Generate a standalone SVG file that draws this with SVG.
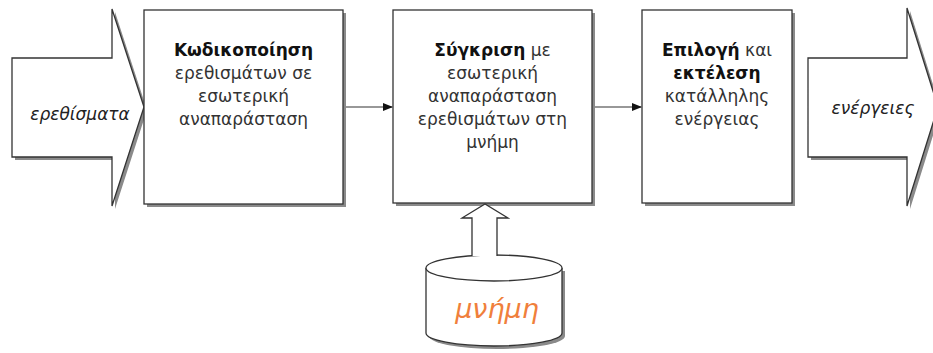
<svg xmlns="http://www.w3.org/2000/svg" width="933" height="353" viewBox="0 0 933 353">
<style>
.sh{fill:#8a8a8a;stroke:none}
.shp{fill:#fff;stroke:#333;stroke-width:1.3}
.t{font-family:"DejaVu Sans",Verdana,sans-serif;font-size:17px;fill:#333;text-anchor:middle}
.b{font-weight:bold;fill:#111}
.it{font-family:"DejaVu Sans",Verdana,sans-serif;font-style:italic;font-size:17px;fill:#222;text-anchor:middle}
.con{stroke:#333;stroke-width:1.2;fill:none}
</style>
<defs>
<marker id="ah" markerWidth="10" markerHeight="8" refX="9" refY="4" orient="auto" markerUnits="userSpaceOnUse">
<path d="M0,0 L10,4 L0,8 Z" fill="#111"/>
</marker>
</defs>
<rect width="933" height="353" fill="#fff"/>

<g id="input-arrow">
<path class="sh" d="M15,61 H115 V12 L147,110 L115,209 V160 H15 Z"/>
<path class="shp" d="M12,58 H112 V9 L144,107 L112,206 V157 H12 Z"/>
<text class="it" x="80" y="120">ερεθίσματα</text>
</g>

<g id="encode">
<rect class="sh" x="147" y="13" width="199" height="194"/>
<rect class="shp" x="144" y="10" width="199" height="194"/>
<text class="t" x="243.5" y="56"><tspan class="b">Κωδικοποίηση</tspan></text>
<text class="t" x="243.5" y="79">ερεθισμάτων σε</text>
<text class="t" x="243.5" y="102">εσωτερική</text>
<text class="t" x="243.5" y="125">αναπαράσταση</text>
</g>

<g id="compare">
<rect class="sh" x="396" y="13" width="199" height="193"/>
<rect class="shp" x="393" y="10" width="199" height="193"/>
<text class="t" x="492.5" y="56"><tspan class="b">Σύγκριση</tspan> με</text>
<text class="t" x="492.5" y="79">εσωτερική</text>
<text class="t" x="492.5" y="102">αναπαράσταση</text>
<text class="t" x="492.5" y="125">ερεθισμάτων στη</text>
<text class="t" x="492.5" y="148">μνήμη</text>
</g>

<g id="select">
<rect class="sh" x="645" y="13" width="150" height="193"/>
<rect class="shp" x="642" y="10" width="150" height="193"/>
<text class="t" x="717" y="56"><tspan class="b">Επιλογή</tspan> και</text>
<text class="t" x="717" y="79"><tspan class="b">εκτέλεση</tspan></text>
<text class="t" x="717" y="102">κατάλληλης</text>
<text class="t" x="717" y="125">ενέργειας</text>
</g>

<g id="output-arrow">
<path class="sh" d="M811,61 H910 V11 L941,110 L910,209 V160 H811 Z"/>
<path class="shp" d="M808,58 H907 V8 L938,107 L907,206 V157 H808 Z"/>
<text class="it" x="873" y="114">ενέργειες</text>
</g>

<g id="memory">
<path class="sh" d="M429,271 V336 A68,13 0 0 0 565,336 V271 Z"/>
<path class="shp" d="M426,268 V333 A68,13 0 0 0 562,333 V268"/>
<ellipse class="shp" cx="494" cy="268" rx="68" ry="13"/>
<text x="497" y="318" font-family="'DejaVu Sans',Verdana,sans-serif" font-style="italic" font-size="27" fill="#f07f3c" text-anchor="middle">μνήμη</text>
</g>

<g id="connectors">
<line class="con" x1="346" y1="107" x2="392" y2="107" marker-end="url(#ah)"/>
<line class="con" x1="595" y1="107" x2="641" y2="107" marker-end="url(#ah)"/>
<path class="shp" d="M472,256 V218 H462 L485,204 L508,218 H497 V256"/>
</g>
</svg>
